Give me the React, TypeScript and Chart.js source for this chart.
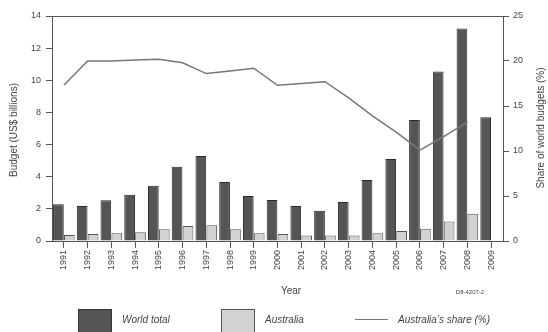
import React, { useEffect, useRef } from "react";
import { Chart, registerables } from "chart.js";

Chart.register(...registerables);

const years = ["1991","1992","1993","1994","1995","1996","1997","1998","1999","2000","2001","2002","2003","2004","2005","2006","2007","2008","2009"];
const worldTotal = [2.28,2.18,2.53,2.88,3.44,4.62,5.29,3.67,2.8,2.55,2.18,1.89,2.43,3.8,5.1,7.53,10.54,13.23,7.7];
const australia = [0.37,0.43,0.48,0.54,0.73,0.93,0.98,0.73,0.48,0.43,0.35,0.35,0.35,0.48,0.62,0.77,1.22,1.7,null];
const australiaShare = [17.3,20.0,20.0,20.1,20.2,19.8,18.6,18.9,19.2,17.3,17.5,17.7,15.9,13.9,12.1,10.1,11.6,13.2,null];
const budgetTicks = { min: 0, max: 14, step: 2 };
const shareTicks = { min: 0, max: 25, step: 5 };

const FONT = "'Liberation Sans', Arial, sans-serif";
const AXIS = "#555";
const TEXT = "#444";

const overlay = {
  id: "overlay",
  afterDraw(chart: any) {
    const ctx = chart.ctx;
    const a = chart.chartArea;
    ctx.save();
    // top frame line
    ctx.strokeStyle = AXIS;
    ctx.lineWidth = 1;
    ctx.beginPath();
    ctx.moveTo(a.left, a.top + 0.5);
    ctx.lineTo(a.right, a.top + 0.5);
    ctx.stroke();

    ctx.fillStyle = TEXT;
    // left title
    ctx.font = `10px ${FONT}`;
    ctx.textAlign = "center";
    ctx.textBaseline = "middle";
    ctx.save();
    ctx.translate(14, 130);
    ctx.rotate(-Math.PI / 2);
    ctx.fillText("Budget (US$ billions)", 0, 0);
    ctx.restore();
    // right title
    ctx.save();
    ctx.translate(541, 128);
    ctx.rotate(-Math.PI / 2);
    ctx.fillText("Share of world budgets (%)", 0, 0);
    ctx.restore();
    // x title
    ctx.fillText("Year", 291, 291);
    // code
    ctx.font = `6px ${FONT}`;
    ctx.fillText("D8-4207-2", 470, 292);

    // legend
    ctx.font = `italic 10px ${FONT}`;
    ctx.textAlign = "left";
    ctx.fillStyle = "#555";
    ctx.strokeStyle = "#333";
    ctx.fillRect(78, 309, 33, 26);
    ctx.strokeRect(78.5, 309.5, 33, 26);
    ctx.fillStyle = "#d2d2d2";
    ctx.strokeStyle = "#555";
    ctx.fillRect(221, 309, 33, 26);
    ctx.strokeRect(221.5, 309.5, 33, 26);
    ctx.strokeStyle = "#777";
    ctx.lineWidth = 1.2;
    ctx.beginPath();
    ctx.moveTo(355, 319.5);
    ctx.lineTo(388, 319.5);
    ctx.stroke();
    ctx.fillStyle = TEXT;
    ctx.fillText("World total", 122, 320);
    ctx.fillText("Australia", 265, 320);
    ctx.fillText("Australia\u2019s share (%)", 398, 320);
    ctx.restore();
  },
};

export default function App() {
  const ref = useRef<HTMLCanvasElement>(null);
  useEffect(() => {
    const canvas = ref.current;
    if (!canvas) return;
    const chart = new Chart(canvas, {
      type: "bar",
      data: {
        labels: years,
        datasets: [
          {
            type: "line",
            label: "Australia's share (%)",
            data: australiaShare,
            yAxisID: "y1",
            borderColor: "#777",
            borderWidth: 1.5,
            pointRadius: 0,
            fill: false,
            tension: 0,
            order: 0,
          } as any,
          {
            label: "World total",
            data: worldTotal,
            yAxisID: "y",
            backgroundColor: "#555",
            borderColor: "#2a2a2a",
            borderWidth: 1,
            categoryPercentage: 0.92,
            barPercentage: 0.98,
            order: 1,
          },
          {
            label: "Australia",
            data: australia,
            yAxisID: "y",
            backgroundColor: "#d2d2d2",
            borderColor: "#555",
            borderWidth: 1,
            categoryPercentage: 0.92,
            barPercentage: 0.98,
            order: 1,
          },
        ],
      },
      options: {
        responsive: false,
        animation: false,
        devicePixelRatio: 1,
        layout: { padding: { top: 16, left: 0, right: 0, bottom: 0 } },
        plugins: { legend: { display: false }, tooltip: { enabled: false } },
        scales: {
          x: {
            offset: true,
            grid: { offset: false, drawOnChartArea: false, drawTicks: true, tickLength: 7, color: AXIS },
            border: { color: AXIS, width: 1 },
            ticks: {
              autoSkip: false,
              maxRotation: 90,
              minRotation: 90,
              padding: 2,
              color: TEXT,
              font: { family: FONT, size: 9 },
            },
            afterFit(scale: any) { scale.height = 91; },
          },
          y: {
            position: "left",
            min: budgetTicks.min,
            max: budgetTicks.max,
            grid: { drawOnChartArea: false, drawTicks: true, tickLength: 6, color: AXIS },
            border: { color: AXIS, width: 1 },
            ticks: { stepSize: budgetTicks.step, padding: 5, color: TEXT, font: { family: FONT, size: 9 } },
            afterFit(scale: any) { scale.width = 52; },
          },
          y1: {
            position: "right",
            min: shareTicks.min,
            max: shareTicks.max,
            grid: { drawOnChartArea: false, drawTicks: true, tickLength: 6, color: AXIS },
            border: { color: AXIS, width: 1 },
            ticks: { stepSize: shareTicks.step, padding: 4, color: TEXT, font: { family: FONT, size: 9 } },
            afterFit(scale: any) { scale.width = 45; },
          },
        },
      },
      plugins: [overlay],
    });
    return () => chart.destroy();
  }, []);
  return (
    <div style={{ position: "absolute", left: 0, top: 0, width: 548, height: 332, background: "#fff" }}>
      <canvas ref={ref} width={548} height={332} style={{ width: 548, height: 332, display: "block" }} />
    </div>
  );
}
